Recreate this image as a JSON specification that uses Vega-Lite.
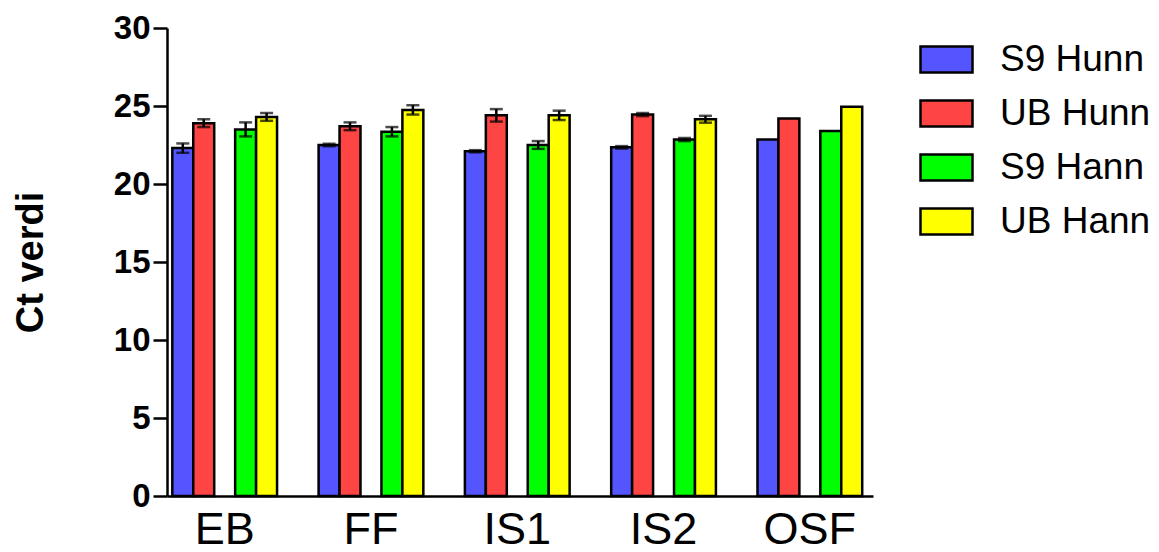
{
  "$schema": "https://vega.github.io/schema/vega-lite/v6.json",
  "width": 706,
  "height": 468,
  "autosize": {"type": "none"},
  "padding": {"left": 167, "top": 28, "right": 286, "bottom": 56},
  "background": "white",
  "config": {
    "view": {"stroke": null},
    "font": "Liberation Sans",
    "axis": {
      "domainColor": "black",
      "domainWidth": 2.5,
      "tickColor": "black",
      "tickWidth": 2.5,
      "labelColor": "black",
      "titleColor": "black",
      "grid": false
    }
  },
  "data": {
    "values": [
      {"gene": "EB", "series": "S9 Hunn", "ct": 22.3, "err": 0.3},
      {"gene": "EB", "series": "UB Hunn", "ct": 23.9, "err": 0.25},
      {"gene": "EB", "series": "S9 Hann", "ct": 23.5, "err": 0.45},
      {"gene": "EB", "series": "UB Hann", "ct": 24.3, "err": 0.25},
      {"gene": "FF", "series": "S9 Hunn", "ct": 22.5, "err": 0.08},
      {"gene": "FF", "series": "UB Hunn", "ct": 23.7, "err": 0.25},
      {"gene": "FF", "series": "S9 Hann", "ct": 23.35, "err": 0.3},
      {"gene": "FF", "series": "UB Hann", "ct": 24.75, "err": 0.3},
      {"gene": "IS1", "series": "S9 Hunn", "ct": 22.1, "err": 0.07},
      {"gene": "IS1", "series": "UB Hunn", "ct": 24.4, "err": 0.4},
      {"gene": "IS1", "series": "S9 Hann", "ct": 22.5, "err": 0.25},
      {"gene": "IS1", "series": "UB Hann", "ct": 24.4, "err": 0.3},
      {"gene": "IS2", "series": "S9 Hunn", "ct": 22.35, "err": 0.08},
      {"gene": "IS2", "series": "UB Hunn", "ct": 24.45, "err": 0.1},
      {"gene": "IS2", "series": "S9 Hann", "ct": 22.85, "err": 0.1},
      {"gene": "IS2", "series": "UB Hann", "ct": 24.15, "err": 0.22},
      {"gene": "OSF", "series": "S9 Hunn", "ct": 22.85, "err": null},
      {"gene": "OSF", "series": "UB Hunn", "ct": 24.2, "err": null},
      {"gene": "OSF", "series": "S9 Hann", "ct": 23.4, "err": null},
      {"gene": "OSF", "series": "UB Hann", "ct": 24.95, "err": null}
    ]
  },
  "encoding": {
    "x": {
      "field": "gene",
      "type": "nominal",
      "sort": ["EB", "FF", "IS1", "IS2", "OSF"],
      "scale": {"paddingInner": 0.284, "paddingOuter": 0.055, "align": 0.33},
      "axis": {
        "title": null,
        "labelAngle": 0,
        "labelFontSize": 45,
        "labelFont": "Liberation Sans",
        "labelFontWeight": "normal",
        "ticks": false,
        "tickSize": 0,
        "labelPadding": 11
      }
    },
    "xOffset": {
      "field": "series",
      "type": "nominal",
      "scale": {
        "domain": ["S9 Hunn", "UB Hunn", " ", "S9 Hann", "UB Hann"],
        "paddingInner": 0,
        "paddingOuter": 0
      }
    }
  },
  "layer": [
    {
      "mark": {"type": "bar", "stroke": "black", "strokeWidth": 2.5},
      "encoding": {
        "y": {
          "field": "ct",
          "type": "quantitative",
          "title": "Ct verdi",
          "scale": {"domain": [0, 30], "nice": false},
          "axis": {
            "titleFontSize": 38,
            "titleFontWeight": "bold",
            "titlePadding": 63,
            "values": [0, 5, 10, 15, 20, 25, 30],
            "labelFontSize": 33,
            "labelFontWeight": "bold",
            "tickSize": 14,
            "labelPadding": 3
          }
        },
        "color": {
          "field": "series",
          "type": "nominal",
          "scale": {
            "domain": ["S9 Hunn", "UB Hunn", "S9 Hann", "UB Hann"],
            "range": ["#5555FF", "#FF4444", "#00FF00", "#FFFF00"]
          },
          "legend": {
            "title": null,
            "orient": "none",
            "legendX": 752,
            "legendY": 4,
            "padding": 0,
            "symbolType": "M-1,-0.5H1V0.5H-1Z",
            "symbolSize": 2704,
            "symbolStrokeColor": "black",
            "symbolStrokeWidth": 2.5,
            "symbolOpacity": 1,
            "labelFontSize": 37,
            "labelFont": "Liberation Sans",
            "labelColor": "black",
            "labelOffset": 26,
            "rowPadding": 8,
            "labelLimit": 300
          }
        }
      }
    },
    {
      "transform": [{"filter": "isValid(datum.err)"}],
      "mark": {
        "type": "errorbar",
        "color": "black",
        "thickness": 2.5,
        "ticks": {"size": 13, "thickness": 2.5, "color": "black"}
      },
      "encoding": {
        "y": {"field": "ct", "type": "quantitative", "title": "Ct verdi"},
        "yError": {"field": "err"}
      }
    }
  ]
}
